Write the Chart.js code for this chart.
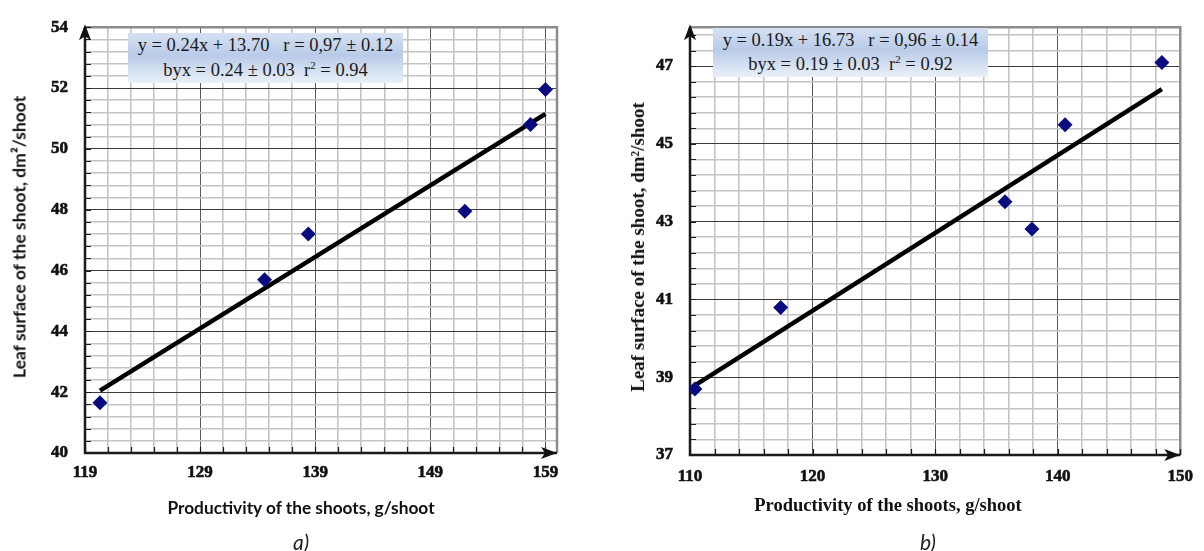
<!DOCTYPE html>
<html>
<head>
<meta charset="utf-8">
<script src="https://cdn.jsdelivr.net/npm/chart.js@4.4.0/dist/chart.umd.min.js"></script>
<style>
  body { margin: 0; background: #fff; width: 1204px; height: 551px; position: relative; overflow: hidden; }
  .wrap { position: absolute; top: 0; height: 551px; }
  #wrapA { left: 0; width: 580px; }
  #wrapB { left: 600px; width: 604px; }
  .eq {
    position: absolute; font-family: "Liberation Serif", serif; font-size: 18.5px; color: #1a1a1a;
    text-align: center; white-space: nowrap;
    background: linear-gradient(#d6e0f2, #b9cbe8 45%, #eaf0f9);
  }
  .eq sup { font-size: 11px; vertical-align: 7px; line-height: 0; }
  .cap { position: absolute; font-family: Lato, sans-serif; font-style: italic; font-size: 21px; color: #222;
         transform: translate(-50%, -50%); }
  .ttl { position: absolute; white-space: nowrap; color: #111; font-weight: bold; transform: translate(-50%, -50%); }
  .ttl.rot { transform: translate(-50%, -50%) rotate(-90deg); }
  .sans { font-family: Lato, sans-serif; }
  .serif { font-family: "Liberation Serif", serif; }
</style>
</head>
<body>
<div class="wrap" id="wrapA"><canvas id="chartA"></canvas></div>
<div class="wrap" id="wrapB"><canvas id="chartB"></canvas></div>

<div class="eq" style="left:128px; top:33px; width:275px; height:50px; line-height:25px;">
  y = 0.24x + 13.70&nbsp;&nbsp; r = 0,97 ± 0.12<br>byx = 0.24 ± 0.03&nbsp; r<sup>2</sup> = 0.94
</div>
<div class="eq" style="left:713px; top:28px; width:275px; height:49px; line-height:24px;">
  y = 0.19x + 16.73&nbsp;&nbsp; r = 0,96 ± 0.14<br>byx = 0.19 ± 0.03&nbsp; r<sup>2</sup> = 0.92
</div>

<div class="ttl sans" id="xTitleA" style="left:301px; top:507px; font-size:17.3px;"></div>
<div class="ttl sans rot" id="yTitleA" style="left:19px; top:237px; font-size:17.5px;"></div>
<div class="ttl serif" id="xTitleB" style="left:888px; top:505px; font-size:18.5px;"></div>
<div class="ttl serif rot" id="yTitleB" style="left:638px; top:247px; font-size:19px;"></div>

<div class="cap" style="left:301px; top:541px;">a)</div>
<div class="cap" style="left:928px; top:541px;">b)</div>

<script>
// дані графіка a)
const prodA = [120.3, 134.6, 138.4, 152.0, 157.7, 159.0];
const leafA = [41.65, 45.7, 47.2, 47.95, 50.8, 51.95];
const trendProdA = [120.3, 159.0];
const trendLeafA = [42.05, 51.15];
const xLabelsA = [119, 129, 139, 149, 159];
const yLabelsA = [40, 42, 44, 46, 48, 50, 52, 54];

// дані графіка b)
const prodB = [110.4, 117.4, 135.7, 137.9, 140.6, 148.5];
const leafB = [38.7, 40.79, 43.51, 42.81, 45.49, 47.09];
const trendProdB = [110.4, 148.5];
const trendLeafB = [38.79, 46.41];
const xLabelsB = [110, 120, 130, 140, 150];
const yLabelsB = [37, 39, 41, 43, 45, 47];

const xTitle = 'Productivity of the shoots, g/shoot';
const yTitle = 'Leaf surface of the shoot, dm²/shoot';

document.getElementById('xTitleA').textContent = xTitle;
document.getElementById('xTitleB').textContent = xTitle;
document.getElementById('yTitleA').textContent = yTitle;
document.getElementById('yTitleB').textContent = yTitle;

// кроки сітки
function steps(from, to, step) {
  const out = [];
  for (let i = 0; from + i * step <= to + 1e-9; i++) out.push(Math.round((from + i * step) * 100) / 100);
  return out;
}
const isIn = (arr, v) => arr.some(a => Math.abs(a - v) < 1e-6);

// рамка, засічки та стрілки осей
const framePlugin = {
  id: 'frame',
  beforeDatasetsDraw(chart) {
    const { ctx, chartArea: a, scales } = chart;
    ctx.save();
    ctx.strokeStyle = '#8c8c8c';
    ctx.lineWidth = 2.5;
    ctx.beginPath();
    ctx.moveTo(a.left, a.top);
    ctx.lineTo(a.right, a.top);
    ctx.lineTo(a.right, a.bottom);
    ctx.stroke();

    ctx.strokeStyle = '#1a1a1a';
    ctx.lineWidth = 1.2;
    ctx.beginPath();
    scales.y.ticks.forEach(t => {
      const py = Math.round(scales.y.getPixelForValue(t.value)) + 0.5;
      ctx.moveTo(a.left, py); ctx.lineTo(a.left + 6, py);
    });
    scales.x.ticks.forEach(t => {
      const px = Math.round(scales.x.getPixelForValue(t.value)) + 0.5;
      ctx.moveTo(px, a.bottom); ctx.lineTo(px, a.bottom - 6);
    });
    ctx.stroke();

    ctx.lineWidth = 2.5;
    ctx.beginPath();
    ctx.moveTo(a.left, a.top);
    ctx.lineTo(a.left, a.bottom);
    ctx.lineTo(a.right, a.bottom);
    ctx.stroke();

    ctx.fillStyle = '#111';
    ctx.beginPath();
    ctx.moveTo(a.left, a.top - 3);
    ctx.lineTo(a.left - 6, a.top + 13);
    ctx.lineTo(a.left, a.top + 9);
    ctx.lineTo(a.left + 6, a.top + 13);
    ctx.closePath();
    ctx.fill();
    ctx.beginPath();
    ctx.moveTo(a.right, a.bottom);
    ctx.lineTo(a.right - 16, a.bottom - 6);
    ctx.lineTo(a.right - 12, a.bottom);
    ctx.lineTo(a.right - 16, a.bottom + 6);
    ctx.closePath();
    ctx.fill();
    ctx.restore();
  }
};

function makeChart(id, cfg) {
  const tickFont = { family: '"Liberation Serif", serif', weight: 'bold', size: 17 };
  return new Chart(document.getElementById(id), {
    type: 'scatter',
    data: {
      datasets: [
        {
          data: cfg.trendX.map((x, i) => ({ x, y: cfg.trendY[i] })),
          showLine: true, borderColor: '#000', borderWidth: 4.5, pointRadius: 0, order: 2
        },
        {
          data: cfg.px.map((x, i) => ({ x, y: cfg.py[i] })),
          pointStyle: 'rectRot', pointRadius: 7.5, backgroundColor: '#0b0b80', borderColor: '#0b0b80',
          borderWidth: 0, order: 1
        }
      ]
    },
    options: {
      responsive: true,
      maintainAspectRatio: false,
      animation: false,
      layout: { padding: { left: 0, top: 20, right: cfg.padRight, bottom: 0 } },
      plugins: { legend: { display: false }, tooltip: { enabled: false } },
      scales: {
        x: {
          type: 'linear', min: cfg.xMin, max: cfg.xMax,
          afterBuildTicks: s => { s.ticks = steps(cfg.xMin, cfg.xLast, 2).map(v => ({ value: v })); },
          afterFit: s => { s.height = cfg.xAxisH; },
          border: { display: false },
          grid: {
            drawTicks: false,
            color: c => isIn(cfg.xLabels, c.tick.value) ? '#5a5a5a' : '#c4c4c4',
            lineWidth: c => isIn(cfg.xLabels, c.tick.value) ? 1 : 1.6
          },
          ticks: {
            autoSkip: false, maxRotation: 0, padding: cfg.xTickPad, color: '#111', font: tickFont,
            textStrokeColor: '#111', textStrokeWidth: 0.6,
            callback: v => isIn(cfg.xLabels, v) ? String(v) : ''
          }
        },
        y: {
          type: 'linear', min: cfg.yMin, max: cfg.yMax,
          afterBuildTicks: s => { s.ticks = steps(cfg.yMin, cfg.yMax, 0.4).map(v => ({ value: v })); },
          afterFit: s => { s.width = cfg.yAxisW; },
          border: { display: false },
          grid: {
            drawTicks: false,
            color: c => isIn(cfg.yLabels, c.tick.value) ? '#3c3c3c' : '#c4c4c4',
            lineWidth: c => isIn(cfg.yLabels, c.tick.value) ? 1 : 1.6
          },
          ticks: {
            autoSkip: false, padding: cfg.yTickPad, color: '#111', font: tickFont,
            textStrokeColor: '#111', textStrokeWidth: 0.6,
            callback: v => isIn(cfg.yLabels, v) ? String(v) : ''
          }
        }
      }
    },
    plugins: [framePlugin]
  });
}

makeChart('chartA', {
  px: prodA, py: leafA, trendX: trendProdA, trendY: trendLeafA,
  xLabels: xLabelsA, yLabels: yLabelsA,
  xMin: 119, xMax: 160, xLast: 159, yMin: 40, yMax: 54,
  padRight: 23, yAxisW: 85, xAxisH: 98, yTickPad: 17, xTickPad: 9
});

makeChart('chartB', {
  px: prodB, py: leafB, trendX: trendProdB, trendY: trendLeafB,
  xLabels: xLabelsB, yLabels: yLabelsB,
  xMin: 110, xMax: 150, xLast: 150, yMin: 37, yMax: 48,
  padRight: 12, yAxisW: 90, xAxisH: 96, yTickPad: 17, xTickPad: 11
});
</script>
</body>
</html>
